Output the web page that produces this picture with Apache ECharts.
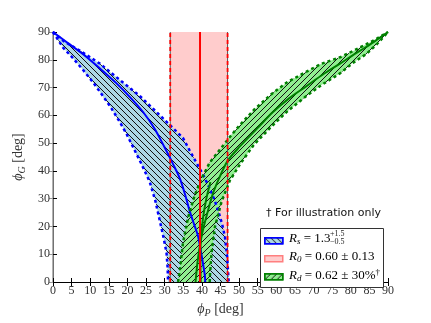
<!DOCTYPE html>
<html>
<head>
<meta charset="utf-8">
<script src="https://cdn.jsdelivr.net/npm/echarts@6/dist/echarts.min.js"></script>
<style>html,body{margin:0;padding:0;background:#fff;}</style>
</head>
<body>
<div id="main" style="width:431px;height:323px;"></div>
<script>
// R_s band (blue)
var blueUpper = [[0,90],[3,86.6],[7.2,83.3],[12.6,78.6],[17.9,72.8],[23.3,67],[27.8,61.2],[31.4,56.5],[34.9,51.9],[36.7,47.4],[38.5,43],[40.4,38.4],[42.1,33.7],[43.4,29.5],[44.4,25.6],[45.4,21],[46.2,16.3],[46.8,9],[47.2,0]];
var blueLower = [[0,90],[2.7,84.4],[5.5,80.4],[8.1,76.3],[10.8,71.8],[13.4,67],[15.7,62.5],[17.9,57.7],[19.8,53.2],[21.5,48.6],[23.8,42.4],[26,36],[27.5,29.2],[28.7,22],[29.7,16],[30.5,10.5],[30.8,5],[30.9,0]];
var blueCenter = [[0,90],[4,86],[8.1,82],[12.5,77],[17,71.6],[20.8,66.4],[24.2,61.2],[27.3,55.2],[30,48.4],[32.2,42.6],[34.1,37.2],[35.5,31.4],[36.7,25.6],[38,20.4],[39,16.3],[40,9],[40.8,2.3],[40.9,0]];
// R_d band (green)
var greenUpper = [[33.6,0],[34.1,4.6],[34.9,14],[36.3,23.3],[38.1,31.4],[39.9,37.2],[42.1,43],[44.8,47.6],[47.5,52.2],[50.2,56.5],[54,62],[59.1,68.1],[63,72],[68.1,75.7],[72,78.5],[77.1,80.9],[80.5,83.1],[84.2,85.6],[87,87.6],[90,90]];
var greenLower = [[42.1,0],[42.2,3],[42.6,10.5],[43.5,19.8],[45.3,29],[47.5,36.5],[50.2,42.3],[54,49.5],[59.1,56.5],[63,61.5],[68.1,67],[72,70.8],[77.1,75.1],[80.5,78.8],[84.2,82.1],[87,85.6],[90,90]];
var greenCenter = [[38.3,0],[38.9,8],[40,17],[41.5,25],[43,32],[45,38.5],[47,43.8],[50.2,48.8],[55,55.5],[59.1,61.2],[63.5,66.2],[68.1,70.5],[72.5,74.7],[77.1,78.6],[80.5,81.6],[84,84.5],[87,87.2],[90,90]];
var greenBranch = [[39.7,0],[39.6,8],[39.7,15],[40.3,23],[41.2,30],[42.3,36]];
// R_0 band (red)
var r0Center = 39.5;
var r0Low = 31.5;
var r0High = 46.9;
var xTicks = [0, 90, 5];
var yTicks = [0, 90, 10];

function hatch(dir) {
  var c = document.createElement('canvas');
  c.width = 6; c.height = 6;
  var g = c.getContext('2d');
  g.strokeStyle = '#111';
  g.lineWidth = 1;
  g.beginPath();
  if (dir === 'back') {
    g.moveTo(-1, -1); g.lineTo(7, 7);
    g.moveTo(-1, 5); g.lineTo(1, 7);
    g.moveTo(5, -1); g.lineTo(7, 1);
  } else {
    g.moveTo(-1, 7); g.lineTo(7, -1);
    g.moveTo(-1, 1); g.lineTo(1, -1);
    g.moveTo(5, 7); g.lineTo(7, 5);
  }
  g.stroke();
  return c;
}
var blueHatch = {image: hatch('back'), repeat: 'repeat'};
var greenHatch = {image: hatch('fwd'), repeat: 'repeat'};

function band(upper, lower) {
  return upper.concat(lower.slice().reverse());
}
var bluePoly = band(blueUpper, blueLower);
var greenPoly = band(greenUpper, greenLower);
var redPoly = [[r0Low, 0], [r0Low, 90], [r0High, 90], [r0High, 0]];

function polySeries(pts, fill, z) {
  return {
    type: 'custom', z: z, clip: true, silent: true,
    data: [0],
    renderItem: function (params, api) {
      var p = pts.map(function (d) { return api.coord(d); });
      return {type: 'polygon', shape: {points: p}, style: {fill: fill, stroke: null}};
    }
  };
}
function lineSeries(data, color, width, type, z, smooth) {
  return {
    type: 'line', z: z, data: data, showSymbol: false, silent: true,
    smooth: smooth || false,
    lineStyle: {color: color, width: width, type: type},
    animation: false
  };
}
function vline(x) { return [[x, 0], [x, 90]]; }

var myChart = echarts.init(document.getElementById('main'), null, {renderer: 'canvas'});
var tickFont = {fontFamily: 'Liberation Serif', fontSize: 12, color: '#333'};
var mathRich = {
  it: {fontFamily: 'Liberation Serif', fontStyle: 'italic', fontSize: 13, color: '#222'},
  sub: {fontFamily: 'Liberation Serif', fontStyle: 'italic', fontSize: 9, color: '#222', padding: [7, 0, 0, 0]},
  sup: {fontFamily: 'Liberation Serif', fontSize: 9, color: '#222', padding: [0, 0, 6, 0]},
  n: {fontFamily: 'Liberation Serif', fontSize: 13, color: '#222'}
};
var axisRich = {
  it: {fontFamily: 'Liberation Serif', fontStyle: 'italic', fontSize: 14, color: '#333'},
  sub: {fontFamily: 'Liberation Serif', fontStyle: 'italic', fontSize: 10, color: '#333', padding: [7, 0, 0, 0]},
  n: {fontFamily: 'Liberation Serif', fontSize: 14, color: '#333'}
};

myChart.setOption({
  animation: false,
  grid: {left: 53, top: 32, right: 43, bottom: 33},
  xAxis: [{
    type: 'value', min: xTicks[0], max: xTicks[1], interval: xTicks[2],
    name: '{it|ϕ}{sub|P}{n| [deg]}', nameLocation: 'middle', nameGap: 19,
    nameTextStyle: {rich: axisRich},
    axisLine: {lineStyle: {color: '#000', width: 1}},
    axisTick: {inside: true, length: 4, lineStyle: {color: '#000'}},
    axisLabel: Object.assign({margin: 3}, tickFont),
    splitLine: {show: false}
  }, {
    type: 'value', position: 'top', min: xTicks[0], max: xTicks[1], interval: xTicks[2],
    axisLine: {show: true, lineStyle: {color: '#000', width: 1}},
    axisTick: {inside: true, length: 4, lineStyle: {color: '#000'}},
    axisLabel: {show: false}, splitLine: {show: false}
  }],
  yAxis: [{
    type: 'value', min: yTicks[0], max: yTicks[1], interval: yTicks[2],
    name: '{it|ϕ}{sub|G}{n| [deg]}', nameLocation: 'middle', nameGap: 18,
    nameTextStyle: {rich: axisRich},
    axisLine: {show: true, lineStyle: {color: '#000', width: 1}},
    axisTick: {show: true, inside: true, length: 4, lineStyle: {color: '#000'}},
    axisLabel: Object.assign({margin: 3}, tickFont),
    splitLine: {show: false}
  }, {
    type: 'value', position: 'right', min: yTicks[0], max: yTicks[1], interval: yTicks[2],
    axisLine: {show: true, lineStyle: {color: '#999', width: 1.5}},
    axisTick: {show: true, inside: true, length: 4, lineStyle: {color: '#999'}},
    axisLabel: {show: false}, splitLine: {show: false}
  }],
  series: [
    polySeries(redPoly, '#ffcccc', 1),
    polySeries(bluePoly, '#add8e6', 2),
    polySeries(bluePoly, blueHatch, 3),
    polySeries(greenPoly, '#90ee90', 4),
    polySeries(greenPoly, greenHatch, 5),
    lineSeries(vline(r0Low), '#555', 1, 'solid', 6),
    lineSeries(vline(r0High), '#555', 1, 'solid', 6),
    lineSeries(blueCenter, '#0000ff', 2, 'solid', 7, 0.3),
    lineSeries(blueUpper, '#0000ff', 2.5, [3, 3], 7),
    lineSeries(blueLower, '#0000ff', 2.5, [3, 3], 7),
    lineSeries(greenCenter, '#008000', 2, 'solid', 8, 0.3),
    lineSeries(greenBranch, '#008000', 2, 'solid', 8, 0.3),
    lineSeries(greenUpper, '#008000', 2.5, [3, 3], 8),
    lineSeries(greenLower, '#008000', 2.5, [3, 3], 8),
    lineSeries(vline(r0Low), '#ff0000', 1.8, [4, 3], 9),
    lineSeries(vline(r0High), '#ff0000', 1.8, [4, 3], 9),
    lineSeries(vline(r0Center), '#ff0000', 2, 'solid', 9)
  ],
  graphic: [
    {type: 'text', left: 266, top: 208, z: 100,
     style: {text: '† For illustration only', fontFamily: 'DejaVu Sans', fontSize: 11, fill: '#111'}},
    {type: 'rect', left: 260, top: 228, z: 100,
     shape: {width: 123, height: 59},
     style: {fill: '#fff', stroke: '#333', lineWidth: 1}},
    {type: 'rect', left: 264, top: 237, z: 101, shape: {width: 18, height: 6},
     style: {fill: '#add8e6', stroke: '#0000ff', lineWidth: 1.5}},
    {type: 'rect', left: 264, top: 237, z: 102, shape: {width: 18, height: 6},
     style: {fill: blueHatch, stroke: '#0000ff', lineWidth: 1.5}},
    {type: 'rect', left: 264, top: 255, z: 101, shape: {width: 18, height: 6},
     style: {fill: '#ffcccc', stroke: '#ff7f7f', lineWidth: 1.5}},
    {type: 'rect', left: 264, top: 273, z: 101, shape: {width: 18, height: 6},
     style: {fill: '#90ee90', stroke: '#008000', lineWidth: 1.5}},
    {type: 'rect', left: 264, top: 273, z: 102, shape: {width: 18, height: 6},
     style: {fill: greenHatch, stroke: '#008000', lineWidth: 1.5}},
    {type: 'text', left: 289, top: 232, z: 103,
     style: {text: '{it|R}{sub|s}{n| = 1.3}', rich: mathRich}},
    {type: 'text', left: 330, top: 230, z: 103,
     style: {text: '+1.5', fontFamily: 'Liberation Serif', fontSize: 8, fill: '#222'}},
    {type: 'text', left: 330, top: 238, z: 103,
     style: {text: '−0.5', fontFamily: 'Liberation Serif', fontSize: 8, fill: '#222'}},
    {type: 'text', left: 289, top: 250, z: 103,
     style: {text: '{it|R}{sub|0}{n| = 0.60 ± 0.13}', rich: mathRich}},
    {type: 'text', left: 289, top: 268, z: 103,
     style: {text: '{it|R}{sub|d}{n| = 0.62 ± 30%}{sup|†}', rich: mathRich}}
  ]
});
</script>
</body>
</html>
